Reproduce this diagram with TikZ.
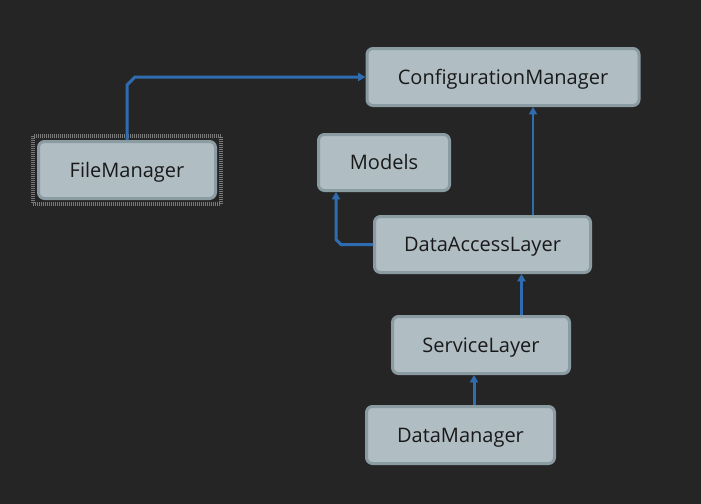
\documentclass[tikz,border=0pt]{standalone}
\usepackage{fontspec}
\setmainfont{Open Sans}
\usetikzlibrary{arrows.meta,calc}
\definecolor{bgdark}{HTML}{252525}
\definecolor{boxfill}{HTML}{B0BEC3}
\definecolor{boxline}{HTML}{8A9BA2}
\definecolor{linkblue}{HTML}{2F6DB0}
\definecolor{selgray}{HTML}{7A7A7A}
\tikzset{
	cls/.style={draw=boxline, line width=2.25pt, fill=boxfill, rounded corners=4.5pt, text=black!90, font=\fontsize{15}{17}\selectfont, text height=10.7pt, text depth=0pt, inner sep=0pt},
	link/.style={draw=linkblue, line width=2.25pt, -{Triangle[width=6pt,length=5.5pt]}},
	thinlink/.style={draw=linkblue, line width=1.1pt, -{Triangle[width=6pt,length=5.5pt]}}
}
\begin{document}
\begin{tikzpicture}[x=0.75pt,y=-0.75pt]
	\fill[bgdark] (0,0) rectangle (701,504);
	\useasboundingbox (0,0) rectangle (701,504);
	% classes
	\node[cls, minimum width=204pt, minimum height=42.75pt] (cm) at (503,77) {ConfigurationManager};
	\draw[selgray, line width=3pt, dash pattern=on 0.75pt off 0.75pt] (33,136) rectangle (221,204);
	\node[cls, minimum width=132.75pt, minimum height=42.75pt] (fm) at (127,170) {FileManager};
	\node[cls, minimum width=98.25pt, minimum height=42pt] (mod) at (384,162.5) {Models};
	\node[cls, minimum width=162pt, minimum height=42pt] (dal) at (482.5,244.5) {DataAccessLayer};
	\node[cls, minimum width=132.75pt, minimum height=42.75pt] (sl) at (481,345) {ServiceLayer};
	\node[cls, minimum width=141pt, minimum height=42.75pt] (dm) at (460.5,435) {DataManager};
	% links
	\draw[link] (fm.north) -- ($(fm.north |- cm.west)+(0,8)$) -- ($(fm.north |- cm.west)+(8,0)$) -- (cm.west);
	\coordinate (dalc) at ($(dal.north)+(50.5,0)$);
	\draw[thinlink] (dalc) -- (dalc |- cm.south);
	\coordinate (modc) at ($(mod.south)+(-48,0)$);
	\draw[link] (dal.west) -- ($(modc |- dal.west)+(5,0)$) -- ($(modc |- dal.west)+(0,-5)$) -- (modc);
	\coordinate (slc) at ($(sl.north)+(40.5,0)$);
	\draw[link] (slc) -- (slc |- dal.south);
	\coordinate (dmc) at ($(dm.north)+(13.5,0)$);
	\draw[link] (dmc) -- (dmc |- sl.south);
\end{tikzpicture}
\end{document}
